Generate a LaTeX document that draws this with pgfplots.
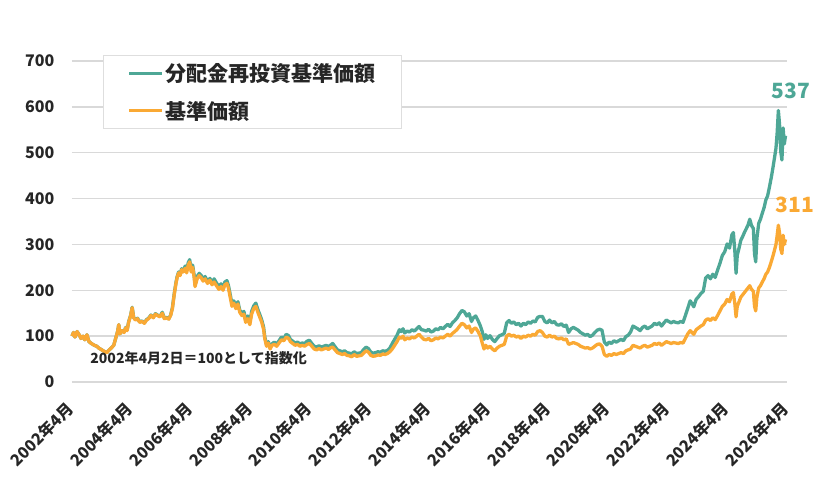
\documentclass[border=0pt]{standalone}
\usepackage{pgfplots}
\pgfplotsset{compat=1.18}
\usepackage{fontspec}
\setmainfont{Noto Sans CJK JP}
\definecolor{tealc}{RGB}{78,167,150}
\definecolor{orangec}{RGB}{250,169,52}
\definecolor{gridc}{RGB}{217,217,217}
\definecolor{txt}{RGB}{38,38,38}

\pgfplotstableread{
t v
2002.25 100
2002.30 108
2002.35 98
2002.42 110
2002.50 102
2002.55 95
2002.62 100
2002.68 92
2002.75 103
2002.82 88
2002.90 84
2003.00 80
2003.08 78
2003.15 74
2003.25 70
2003.35 66
2003.42 64
2003.50 70
2003.58 75
2003.65 80
2003.72 96
2003.78 110
2003.82 125
2003.86 105
2003.92 112
2004.00 109
2004.05 119
2004.10 113
2004.15 131
2004.22 146
2004.27 163
2004.32 141
2004.38 136
2004.45 139
2004.52 131
2004.60 133
2004.68 129
2004.75 136
2004.82 139
2004.90 146
2004.98 141
2005.05 149
2005.12 146
2005.20 143
2005.28 152
2005.35 139
2005.42 141
2005.50 138
2005.56 146
2005.62 162
2005.68 192
2005.74 217
2005.78 230
2005.83 240
2005.88 234
2005.93 247
2005.98 242
2006.05 253
2006.10 243
2006.15 260
2006.20 267
2006.25 245
2006.30 255
2006.35 233
2006.38 212
2006.45 230
2006.52 237
2006.58 233
2006.65 224
2006.72 230
2006.80 219
2006.88 226
2006.95 216
2007.02 225
2007.10 216
2007.18 208
2007.25 214
2007.32 206
2007.38 218
2007.45 221
2007.50 211
2007.56 191
2007.62 170
2007.68 177
2007.75 165
2007.82 175
2007.88 157
2007.95 149
2008.02 154
2008.08 135
2008.15 144
2008.22 130
2008.28 154
2008.35 166
2008.42 172
2008.50 156
2008.56 146
2008.62 135
2008.68 120
2008.72 99
2008.78 81
2008.84 88
2008.90 75
2008.96 83
2009.04 87
2009.12 83
2009.20 90
2009.28 98
2009.36 95
2009.44 104
2009.52 101
2009.58 93
2009.66 89
2009.74 85
2009.82 87
2009.90 83
2009.98 85
2010.06 84
2010.14 89
2010.22 91
2010.30 84
2010.38 78
2010.46 76
2010.54 79
2010.62 76
2010.70 78
2010.78 80
2010.86 77
2010.94 81
2011.00 84
2011.08 77
2011.16 70
2011.24 68
2011.32 66
2011.40 68
2011.48 64
2011.56 63
2011.64 61
2011.72 66
2011.80 62
2011.88 63
2011.96 64
2012.04 71
2012.12 76
2012.20 73
2012.28 65
2012.36 63
2012.44 64
2012.52 66
2012.60 65
2012.68 68
2012.76 67
2012.84 69
2012.92 74
2013.00 84
2013.08 93
2013.16 102
2013.24 114
2013.30 110
2013.36 116
2013.42 107
2013.50 111
2013.58 109
2013.66 114
2013.74 111
2013.82 116
2013.90 121
2013.98 114
2014.06 113
2014.14 111
2014.22 115
2014.30 109
2014.38 111
2014.46 116
2014.54 114
2014.62 119
2014.70 116
2014.78 121
2014.86 126
2014.94 121
2015.02 129
2015.10 134
2015.18 140
2015.26 149
2015.34 156
2015.42 153
2015.50 144
2015.58 149
2015.66 132
2015.72 140
2015.80 144
2015.88 134
2015.96 122
2016.02 110
2016.08 93
2016.14 103
2016.20 95
2016.28 101
2016.36 93
2016.44 88
2016.52 95
2016.60 101
2016.68 103
2016.76 106
2016.84 129
2016.92 134
2017.00 128
2017.08 131
2017.16 125
2017.24 128
2017.32 122
2017.40 128
2017.48 125
2017.56 131
2017.64 128
2017.72 133
2017.80 131
2017.88 141
2017.96 143
2018.04 143
2018.12 132
2018.20 129
2018.28 135
2018.36 129
2018.44 132
2018.52 125
2018.60 124
2018.68 127
2018.76 121
2018.84 124
2018.92 108
2019.00 116
2019.08 119
2019.16 116
2019.24 113
2019.32 108
2019.40 105
2019.48 102
2019.56 104
2019.64 99
2019.72 102
2019.80 108
2019.88 113
2019.96 115
2020.04 113
2020.12 87
2020.20 81
2020.28 87
2020.36 84
2020.44 90
2020.52 87
2020.60 90
2020.68 93
2020.76 90
2020.84 99
2020.92 102
2021.00 109
2021.08 122
2021.16 119
2021.24 116
2021.32 112
2021.40 119
2021.48 122
2021.56 116
2021.64 119
2021.72 122
2021.80 128
2021.88 125
2021.96 129
2022.04 122
2022.12 129
2022.20 135
2022.28 132
2022.36 129
2022.44 132
2022.52 130
2022.60 129
2022.68 132
2022.76 130
2022.84 145
2022.92 161
2023.00 177
2023.06 171
2023.12 164
2023.20 180
2023.28 186
2023.36 193
2023.44 198
2023.52 227
2023.60 232
2023.68 225
2023.76 235
2023.84 228
2023.92 244
2024.00 259
2024.08 276
2024.16 284
2024.24 301
2024.32 292
2024.40 321
2024.45 326
2024.50 284
2024.54 237
2024.58 276
2024.64 292
2024.70 309
2024.76 317
2024.82 326
2024.88 334
2024.94 342
2025.00 355
2025.06 341
2025.12 335
2025.16 279
2025.20 262
2025.24 313
2025.30 346
2025.36 355
2025.42 368
2025.48 380
2025.54 397
2025.60 406
2025.66 425
2025.72 445
2025.78 468
2025.84 493
2025.88 510
2025.92 544
2025.96 592
2026.00 562
2026.04 502
2026.08 484
2026.12 554
2026.16 519
2026.20 537
}\reinvest

\pgfplotstableread{
t v
2002.25 100
2002.30 108
2002.35 98
2002.42 110
2002.50 102
2002.55 95
2002.62 100
2002.68 92
2002.75 103
2002.82 88
2002.90 84
2003.00 80
2003.08 78
2003.15 74
2003.25 70
2003.35 66
2003.42 64
2003.50 70
2003.58 75
2003.65 80
2003.72 96
2003.78 110
2003.82 125
2003.86 105
2003.92 112
2004.00 108
2004.05 118
2004.10 112
2004.15 130
2004.22 145
2004.27 162
2004.32 140
2004.38 135
2004.45 138
2004.52 130
2004.60 132
2004.68 128
2004.75 135
2004.82 138
2004.90 145
2004.98 140
2005.05 148
2005.12 145
2005.20 142
2005.28 150
2005.35 138
2005.42 140
2005.50 137
2005.56 145
2005.62 160
2005.68 190
2005.74 215
2005.78 228
2005.83 238
2005.88 232
2005.93 245
2005.98 240
2006.05 248
2006.10 238
2006.15 255
2006.20 262
2006.25 240
2006.30 250
2006.35 228
2006.38 208
2006.45 225
2006.52 232
2006.58 228
2006.65 220
2006.72 225
2006.80 215
2006.88 222
2006.95 212
2007.02 218
2007.10 210
2007.18 202
2007.25 208
2007.32 200
2007.38 212
2007.45 215
2007.50 205
2007.56 185
2007.62 165
2007.68 172
2007.75 160
2007.82 170
2007.88 152
2007.95 145
2008.02 148
2008.08 130
2008.15 138
2008.22 125
2008.28 148
2008.35 160
2008.42 165
2008.50 150
2008.56 140
2008.62 130
2008.68 115
2008.72 95
2008.78 78
2008.84 85
2008.90 72
2008.96 80
2009.04 82
2009.12 78
2009.20 85
2009.28 92
2009.36 90
2009.44 98
2009.52 95
2009.58 88
2009.66 84
2009.74 80
2009.82 82
2009.90 78
2009.98 80
2010.06 78
2010.14 82
2010.22 84
2010.30 78
2010.38 72
2010.46 70
2010.54 73
2010.62 70
2010.70 72
2010.78 74
2010.86 71
2010.94 75
2011.00 76
2011.08 70
2011.16 64
2011.24 62
2011.32 60
2011.40 62
2011.48 58
2011.56 57
2011.64 55
2011.72 60
2011.80 56
2011.88 57
2011.96 58
2012.04 63
2012.12 68
2012.20 65
2012.28 58
2012.36 56
2012.44 57
2012.52 59
2012.60 58
2012.68 61
2012.76 60
2012.84 62
2012.92 66
2013.00 72
2013.08 80
2013.16 88
2013.24 98
2013.30 95
2013.36 100
2013.42 92
2013.50 96
2013.58 94
2013.66 98
2013.74 96
2013.82 100
2013.90 104
2013.98 98
2014.06 93
2014.14 92
2014.22 95
2014.30 90
2014.38 92
2014.46 96
2014.54 94
2014.62 98
2014.70 96
2014.78 100
2014.86 104
2014.94 100
2015.02 106
2015.10 110
2015.18 115
2015.26 122
2015.34 128
2015.42 125
2015.50 118
2015.58 122
2015.66 108
2015.72 115
2015.80 118
2015.88 110
2015.96 100
2016.02 85
2016.08 72
2016.14 80
2016.20 74
2016.28 78
2016.36 72
2016.44 68
2016.52 74
2016.60 78
2016.68 80
2016.76 82
2016.84 100
2016.92 104
2017.00 100
2017.08 102
2017.16 98
2017.24 100
2017.32 95
2017.40 100
2017.48 98
2017.56 102
2017.64 100
2017.72 104
2017.80 102
2017.88 110
2017.96 112
2018.04 108
2018.12 100
2018.20 98
2018.28 102
2018.36 98
2018.44 100
2018.52 95
2018.60 94
2018.68 96
2018.76 92
2018.84 94
2018.92 82
2019.00 84
2019.08 86
2019.16 84
2019.24 82
2019.32 78
2019.40 76
2019.48 74
2019.56 75
2019.64 72
2019.72 74
2019.80 78
2019.88 82
2019.96 83
2020.04 78
2020.12 60
2020.20 56
2020.28 60
2020.36 58
2020.44 62
2020.52 60
2020.60 62
2020.68 64
2020.76 62
2020.84 68
2020.92 70
2021.00 72
2021.08 80
2021.16 78
2021.24 76
2021.32 74
2021.40 78
2021.48 80
2021.56 76
2021.64 78
2021.72 80
2021.80 84
2021.88 82
2021.96 85
2022.04 80
2022.12 84
2022.20 88
2022.28 86
2022.36 84
2022.44 86
2022.52 85
2022.60 84
2022.68 86
2022.76 85
2022.84 95
2022.92 105
2023.00 112
2023.06 108
2023.12 104
2023.20 114
2023.28 118
2023.36 122
2023.44 125
2023.52 135
2023.60 138
2023.68 134
2023.76 140
2023.84 136
2023.92 145
2024.00 155
2024.08 165
2024.16 170
2024.24 180
2024.32 175
2024.40 192
2024.45 195
2024.50 170
2024.54 142
2024.58 165
2024.64 175
2024.70 185
2024.76 190
2024.82 195
2024.88 200
2024.94 205
2025.00 210
2025.06 202
2025.12 198
2025.16 165
2025.20 155
2025.24 185
2025.30 205
2025.36 210
2025.42 218
2025.48 225
2025.54 235
2025.60 240
2025.66 250
2025.72 262
2025.78 275
2025.84 290
2025.88 300
2025.92 320
2025.96 342
2026.00 325
2026.04 290
2026.08 280
2026.12 320
2026.16 300
2026.20 311
}\nav

\begin{document}
\begin{tikzpicture}
\useasboundingbox (-72pt,-96pt) rectangle (753pt,382pt);
\begin{axis}[
  scale only axis,
  width=715pt, height=321pt,
  xmin=2002.25, xmax=2026.25,
  ymin=0, ymax=700,
  ytick={0,100,...,700},
  xtick={2002.25,2004.25,...,2026.25},
  xticklabels={2002年4月,2004年4月,2006年4月,2008年4月,2010年4月,2012年4月,2014年4月,2016年4月,2018年4月,2020年4月,2022年4月,2024年4月,2026年4月},
  axis line style={draw=none},
  major tick length=0pt,
  ymajorgrids,
  grid style={gridc, line width=1.3pt},
  clip=false,
  /pgf/number format/assume math mode=true,
  yticklabel style={font=\fontsize{16}{18}\selectfont\bfseries, text=txt, xshift=-14pt},
  xticklabel style={font=\fontsize{16}{18}\selectfont\bfseries, text=txt, xshift=-7pt, yshift=-18pt, rotate=45, anchor=north east, inner sep=0pt},
  legend style={at={(rel axis cs:0.0434,1.0187)}, anchor=north west,
    draw=black!13, line width=1pt, fill=white,
    font=\fontsize{21}{24}\selectfont\bfseries, text=txt,
    inner xsep=24pt, inner ysep=6pt, row sep=14pt,
    nodes={inner sep=2pt}},
  legend cell align=left,
  legend image code/.code={\draw[#1, line width=3pt] (0pt,0pt) -- (33pt,0pt);},
]
\addplot[tealc, line width=3.3pt, line join=round] table[x=t, y=v] {\reinvest};
\addlegendentry{分配金再投資基準価額}
\addplot[orangec, line width=3.3pt, line join=round] table[x=t, y=v] {\nav};
\addlegendentry{基準価額}
\node[anchor=west, font=\fontsize{14}{16}\selectfont\bfseries, text=txt] at (axis cs:2002.75,52) {2002年4月2日＝100として指数化};
\node[font=\fontsize{21}{24}\selectfont\bfseries, text=tealc] at (axis cs:2026.39,635) {537};
\node[font=\fontsize{21}{24}\selectfont\bfseries, text=orangec] at (axis cs:2026.52,386) {311};
\end{axis}
\end{tikzpicture}
\end{document}
